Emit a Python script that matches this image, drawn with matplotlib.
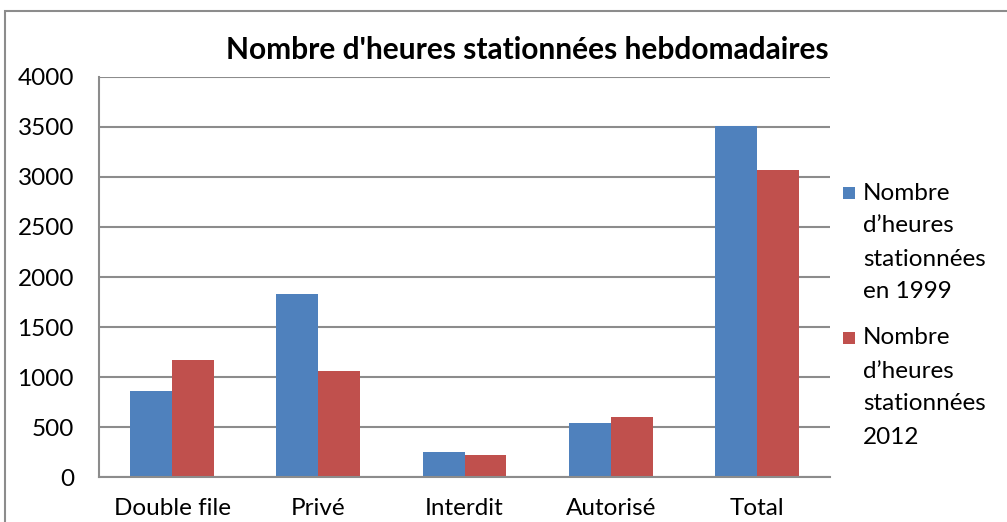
import matplotlib
matplotlib.use("Agg")
import matplotlib.pyplot as plt
import numpy as np
from matplotlib.patches import Rectangle

categories = ["Double file", "Privé", "Interdit", "Autorisé", "Total"]
heures_1999 = [860, 1830, 255, 545, 3510]
heures_2012 = [1175, 1065, 225, 600, 3070]
series_labels = ["Nombre\nd\u2019heures\nstationnées\nen 1999",
                 "Nombre\nd\u2019heures\nstationnées\n2012"]
series_colors = ["#4F81BD", "#C0504D"]
y_ticks = [0, 500, 1000, 1500, 2000, 2500, 3000, 3500, 4000]
title = "Nombre d'heures stationnées hebdomadaires"

plt.rcParams["font.family"] = ["Lato", "DejaVu Sans"]

W, H = 1007, 522
fig = plt.figure(figsize=(W / 100, H / 100), dpi=100)
fig.patch.set_facecolor("white")

# outer chart frame
fig.add_artist(Rectangle((5 / W, -0.05), 1.2, (H - 11) / H + 0.05,
                         transform=fig.transFigure, fill=False,
                         edgecolor="#8c8c8c", linewidth=1.5))

ax = fig.add_axes([99 / W, 45 / H, (830 - 99) / W, 400 / H])
x = np.arange(len(categories))
bw = 0.287
ax.bar(x - bw / 2, heures_1999, bw, color=series_colors[0])
ax.bar(x + bw / 2, heures_2012, bw, color=series_colors[1])

ax.set_xlim(-0.5, len(categories) - 0.5)
ax.set_ylim(0, 4000)
ax.set_yticks(y_ticks)
ax.set_yticklabels([str(v) for v in y_ticks], fontsize=17.5)
ax.set_xticks(x)
ax.set_xticklabels(categories, fontsize=17.5)
ax.tick_params(axis="y", length=0, pad=18)
ax.tick_params(axis="x", length=0, pad=15)
ax.yaxis.grid(True, color="#8c8c8c", linewidth=1.5)
ax.set_axisbelow(True)
for s in ["top", "right"]:
    ax.spines[s].set_visible(False)
for s in ["left", "bottom"]:
    ax.spines[s].set_color("#8c8c8c")
    ax.spines[s].set_linewidth(1.5)

fig.text(527 / W, 1 - 50 / H, title, fontsize=21.5, fontweight="bold",
         ha="center", va="center")

# legend: square marker beside the first line of each multi-line label
for i, (lab, col) in enumerate(zip(series_labels, series_colors)):
    y0 = 193 + i * 145
    fig.add_artist(Rectangle((843 / W, 1 - (y0 + 6) / H), 12 / W, 12 / H,
                             transform=fig.transFigure, facecolor=col,
                             edgecolor="none"))
    for j, line in enumerate(lab.split("\n")):
        fig.text(863 / W, 1 - (y0 + j * 33) / H, line, fontsize=17.5,
                 ha="left", va="center")

fig.savefig("out.png", dpi=100)
